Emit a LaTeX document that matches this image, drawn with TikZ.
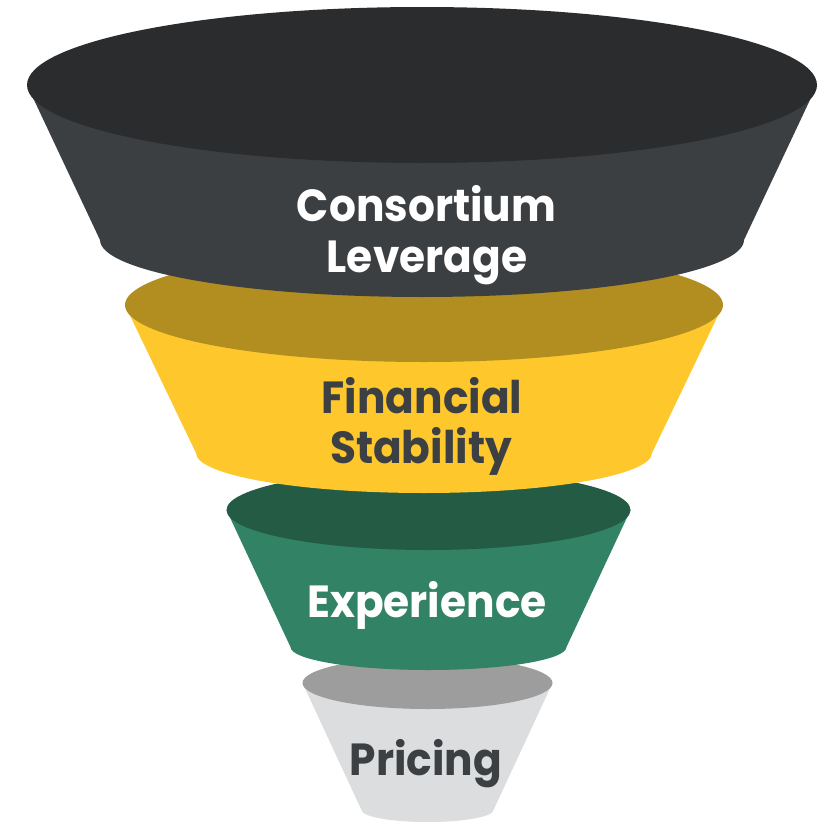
\documentclass[tikz,border=0pt]{standalone}
\usepackage{fontspec}
\newfontfamily\funnelfont{Poppins}[FakeStretch=0.94]
\definecolor{charTop}{HTML}{2B2C2E}
\definecolor{charBody}{HTML}{3C3F42}
\definecolor{goldTop}{HTML}{B28D20}
\definecolor{goldBody}{HTML}{FEC82C}
\definecolor{greenTop}{HTML}{235B45}
\definecolor{greenBody}{HTML}{328265}
\definecolor{greyTop}{HTML}{9D9D9D}
\definecolor{greyBody}{HTML}{DCDDDF}
\definecolor{inkDark}{HTML}{3D4043}

% one funnel tier: #1 centre x, #2 top-ellipse centre y, #3/#4 top radii,
% #5 bottom-ellipse centre y, #6/#7 bottom radii, #8 top colour, #9 body colour
\newcommand{\tier}[9]{%
  \fill[#9] (#1-#3,#2) -- (#1-#6,#5)
     arc[start angle=180, end angle=360, x radius=#6pt, y radius=#7pt]
     -- (#1+#3,#2) -- cycle;
  \fill[#8] (#1,#2) ellipse[x radius=#3pt, y radius=#4pt];
}

\tikzset{
  tiertext/.style={anchor=base, inner sep=0pt,
    font=\funnelfont\bfseries\fontsize{45}{50}\selectfont},
}

\begin{document}
\begin{tikzpicture}[x=1pt, y=-1pt]
  \useasboundingbox[fill=white] (0,0) rectangle (831,822);

  % tiers, drawn from the bottom up so each upper tier overlaps the next
  \tier{427.5}{683}{125}{26}{810}{66}{12}{greyTop}{greyBody}
  \tier{428.5}{510}{202}{40}{647}{138}{23}{greenTop}{greenBody}
  \tier{424}{305}{299}{57}{453}{228}{40}{goldTop}{goldBody}
  \tier{422}{85}{395}{78}{240}{322}{57}{charTop}{charBody}

  % labels
  \node[tiertext, text=white] (consortium) at (426.5,221) {Consortium};
  \node[tiertext, text=white] (leverage) at (427,272) {Leverage};
  \node[tiertext, text=inkDark] (financial) at (422,413) {Financial};
  \node[tiertext, text=inkDark] (stability) at (421,463) {Stability};
  \node[tiertext, text=white] (experience) at (427,617) {Experience};
  \node[tiertext, text=inkDark] (pricing) at (426,775) {Pricing};
\end{tikzpicture}
\end{document}
